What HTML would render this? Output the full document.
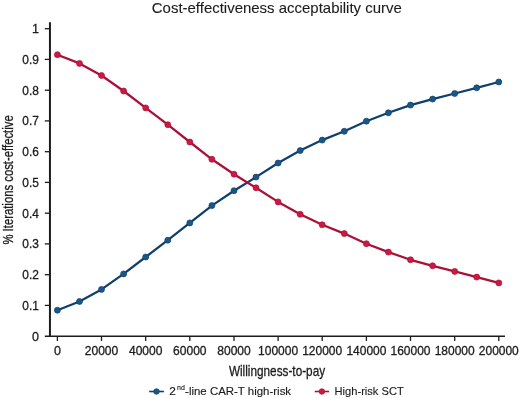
<!DOCTYPE html>
<html><head><meta charset="utf-8"><title>Cost-effectiveness acceptability curve</title>
<style>
html,body{margin:0;padding:0;background:#fff;}
body{width:520px;height:398px;overflow:hidden;}
svg{display:block;font-family:"Liberation Sans",sans-serif;fill:#1c1c1c;}
text{stroke:#1c1c1c;stroke-width:0.3px;}
text.t{stroke-width:0.1px;}
.lg text{stroke-width:0.15px;}
</style></head><body>
<svg width="520" height="398" viewBox="0 0 520 398">
<rect width="520" height="398" fill="#fff"/>

<text x="151.8" y="12.5" font-size="14.6" class="t" textLength="250" lengthAdjust="spacingAndGlyphs">Cost-effectiveness acceptability curve</text>
<g stroke="#1c1c1c" stroke-width="1.3" fill="none">
<path d="M49.95,22.2V336.9" stroke-width="2"/>
<path d="M44.8,336.2H505" stroke-width="1.5"/>
<path d="M44.8,305.4H50"/>
<path d="M44.8,274.7H50"/>
<path d="M44.8,243.9H50"/>
<path d="M44.8,213.2H50"/>
<path d="M44.8,182.4H50"/>
<path d="M44.8,151.7H50"/>
<path d="M44.8,120.9H50"/>
<path d="M44.8,90.2H50"/>
<path d="M44.8,59.4H50"/>
<path d="M44.8,28.7H50"/>
<path d="M57.4,336.2V341"/>
<path d="M101.5,336.2V341"/>
<path d="M145.7,336.2V341"/>
<path d="M189.8,336.2V341"/>
<path d="M234.0,336.2V341"/>
<path d="M278.1,336.2V341"/>
<path d="M322.2,336.2V341"/>
<path d="M366.4,336.2V341"/>
<path d="M410.5,336.2V341"/>
<path d="M454.7,336.2V341"/>
<path d="M498.8,336.2V341"/>
</g>
<text x="38.9" y="340.6" font-size="12.5" text-anchor="end">0</text>
<text x="38.9" y="309.8" font-size="12.5" text-anchor="end" textLength="16.6" lengthAdjust="spacingAndGlyphs">0.1</text>
<text x="38.9" y="279.1" font-size="12.5" text-anchor="end" textLength="16.6" lengthAdjust="spacingAndGlyphs">0.2</text>
<text x="38.9" y="248.3" font-size="12.5" text-anchor="end" textLength="16.6" lengthAdjust="spacingAndGlyphs">0.3</text>
<text x="38.9" y="217.6" font-size="12.5" text-anchor="end" textLength="16.6" lengthAdjust="spacingAndGlyphs">0.4</text>
<text x="38.9" y="186.8" font-size="12.5" text-anchor="end" textLength="16.6" lengthAdjust="spacingAndGlyphs">0.5</text>
<text x="38.9" y="156.1" font-size="12.5" text-anchor="end" textLength="16.6" lengthAdjust="spacingAndGlyphs">0.6</text>
<text x="38.9" y="125.3" font-size="12.5" text-anchor="end" textLength="16.6" lengthAdjust="spacingAndGlyphs">0.7</text>
<text x="38.9" y="94.6" font-size="12.5" text-anchor="end" textLength="16.6" lengthAdjust="spacingAndGlyphs">0.8</text>
<text x="38.9" y="63.8" font-size="12.5" text-anchor="end" textLength="16.6" lengthAdjust="spacingAndGlyphs">0.9</text>
<text x="38.9" y="33.1" font-size="12.5" text-anchor="end">1</text>
<text x="57.4" y="355.1" font-size="12.5" text-anchor="middle">0</text>
<text x="101.5" y="355.1" font-size="12.5" text-anchor="middle" textLength="33.5" lengthAdjust="spacingAndGlyphs">20000</text>
<text x="145.7" y="355.1" font-size="12.5" text-anchor="middle" textLength="33.5" lengthAdjust="spacingAndGlyphs">40000</text>
<text x="189.8" y="355.1" font-size="12.5" text-anchor="middle" textLength="33.5" lengthAdjust="spacingAndGlyphs">60000</text>
<text x="234.0" y="355.1" font-size="12.5" text-anchor="middle" textLength="33.5" lengthAdjust="spacingAndGlyphs">80000</text>
<text x="278.1" y="355.1" font-size="12.5" text-anchor="middle" textLength="40.0" lengthAdjust="spacingAndGlyphs">100000</text>
<text x="322.2" y="355.1" font-size="12.5" text-anchor="middle" textLength="40.0" lengthAdjust="spacingAndGlyphs">120000</text>
<text x="366.4" y="355.1" font-size="12.5" text-anchor="middle" textLength="40.0" lengthAdjust="spacingAndGlyphs">140000</text>
<text x="410.5" y="355.1" font-size="12.5" text-anchor="middle" textLength="40.0" lengthAdjust="spacingAndGlyphs">160000</text>
<text x="454.7" y="355.1" font-size="12.5" text-anchor="middle" textLength="40.0" lengthAdjust="spacingAndGlyphs">180000</text>
<text x="498.8" y="355.1" font-size="12.5" text-anchor="middle" textLength="40.0" lengthAdjust="spacingAndGlyphs">200000</text>
<text x="228.9" y="375.9" font-size="13.9" textLength="96.2" lengthAdjust="spacingAndGlyphs">Willingness-to-pay</text>
<text transform="translate(12.5,244.6) rotate(-90)" font-size="13.9" textLength="129.3" lengthAdjust="spacingAndGlyphs">% Iterations cost-effective</text>
<polyline fill="none" stroke="#103f6c" stroke-width="2.25" stroke-linejoin="round" points="57.4,310.2 79.5,301.5 101.5,289.4 123.6,273.9 145.7,257.0 167.8,240.2 189.8,222.9 211.9,205.6 234.0,190.7 256.0,177.1 278.1,163.0 300.2,150.6 322.2,140.1 344.3,131.3 366.4,121.2 388.4,112.8 410.5,105.1 432.6,99.1 454.7,93.5 476.7,87.8 498.8,82.0"/><g fill="#1a5789" stroke="#103f6c" stroke-width="0.7"><circle cx="57.4" cy="310.2" r="3"/><circle cx="79.5" cy="301.5" r="3"/><circle cx="101.5" cy="289.4" r="3"/><circle cx="123.6" cy="273.9" r="3"/><circle cx="145.7" cy="257.0" r="3"/><circle cx="167.8" cy="240.2" r="3"/><circle cx="189.8" cy="222.9" r="3"/><circle cx="211.9" cy="205.6" r="3"/><circle cx="234.0" cy="190.7" r="3"/><circle cx="256.0" cy="177.1" r="3"/><circle cx="278.1" cy="163.0" r="3"/><circle cx="300.2" cy="150.6" r="3"/><circle cx="322.2" cy="140.1" r="3"/><circle cx="344.3" cy="131.3" r="3"/><circle cx="366.4" cy="121.2" r="3"/><circle cx="388.4" cy="112.8" r="3"/><circle cx="410.5" cy="105.1" r="3"/><circle cx="432.6" cy="99.1" r="3"/><circle cx="454.7" cy="93.5" r="3"/><circle cx="476.7" cy="87.8" r="3"/><circle cx="498.8" cy="82.0" r="3"/></g>
<polyline fill="none" stroke="#ab1037" stroke-width="2.25" stroke-linejoin="round" points="57.4,54.7 79.5,63.4 101.5,75.5 123.6,91.0 145.7,107.9 167.8,124.7 189.8,142.0 211.9,159.3 234.0,174.2 256.0,187.8 278.1,201.9 300.2,214.3 322.2,224.8 344.3,233.6 366.4,243.7 388.4,252.1 410.5,259.8 432.6,265.8 454.7,271.4 476.7,277.1 498.8,282.9"/><g fill="#cb1a42" stroke="#ab1037" stroke-width="0.7"><circle cx="57.4" cy="54.7" r="3"/><circle cx="79.5" cy="63.4" r="3"/><circle cx="101.5" cy="75.5" r="3"/><circle cx="123.6" cy="91.0" r="3"/><circle cx="145.7" cy="107.9" r="3"/><circle cx="167.8" cy="124.7" r="3"/><circle cx="189.8" cy="142.0" r="3"/><circle cx="211.9" cy="159.3" r="3"/><circle cx="234.0" cy="174.2" r="3"/><circle cx="256.0" cy="187.8" r="3"/><circle cx="278.1" cy="201.9" r="3"/><circle cx="300.2" cy="214.3" r="3"/><circle cx="322.2" cy="224.8" r="3"/><circle cx="344.3" cy="233.6" r="3"/><circle cx="366.4" cy="243.7" r="3"/><circle cx="388.4" cy="252.1" r="3"/><circle cx="410.5" cy="259.8" r="3"/><circle cx="432.6" cy="265.8" r="3"/><circle cx="454.7" cy="271.4" r="3"/><circle cx="476.7" cy="277.1" r="3"/><circle cx="498.8" cy="282.9" r="3"/></g>
<path d="M149.2,391.5H163.9" stroke="#103f6c" stroke-width="1.6"/><circle cx="156.5" cy="391.5" r="2.8" fill="#1a5789" stroke="#103f6c" stroke-width="0.7"/>
<g class="lg"><text x="169.2" y="395.3" font-size="11.8">2</text><text x="177" y="390.2" font-size="8" textLength="7.8" lengthAdjust="spacingAndGlyphs">nd</text><text x="185.1" y="395.3" font-size="11.8" textLength="106" lengthAdjust="spacingAndGlyphs">-line CAR-T high-risk</text>
<path d="M314.8,391.5H329.1" stroke="#ab1037" stroke-width="1.6"/><circle cx="321.9" cy="391.5" r="2.8" fill="#cb1a42" stroke="#ab1037" stroke-width="0.7"/>
<text x="334.6" y="395.3" font-size="11.8" textLength="69.1" lengthAdjust="spacingAndGlyphs">High-risk SCT</text></g>
</svg></body></html>
